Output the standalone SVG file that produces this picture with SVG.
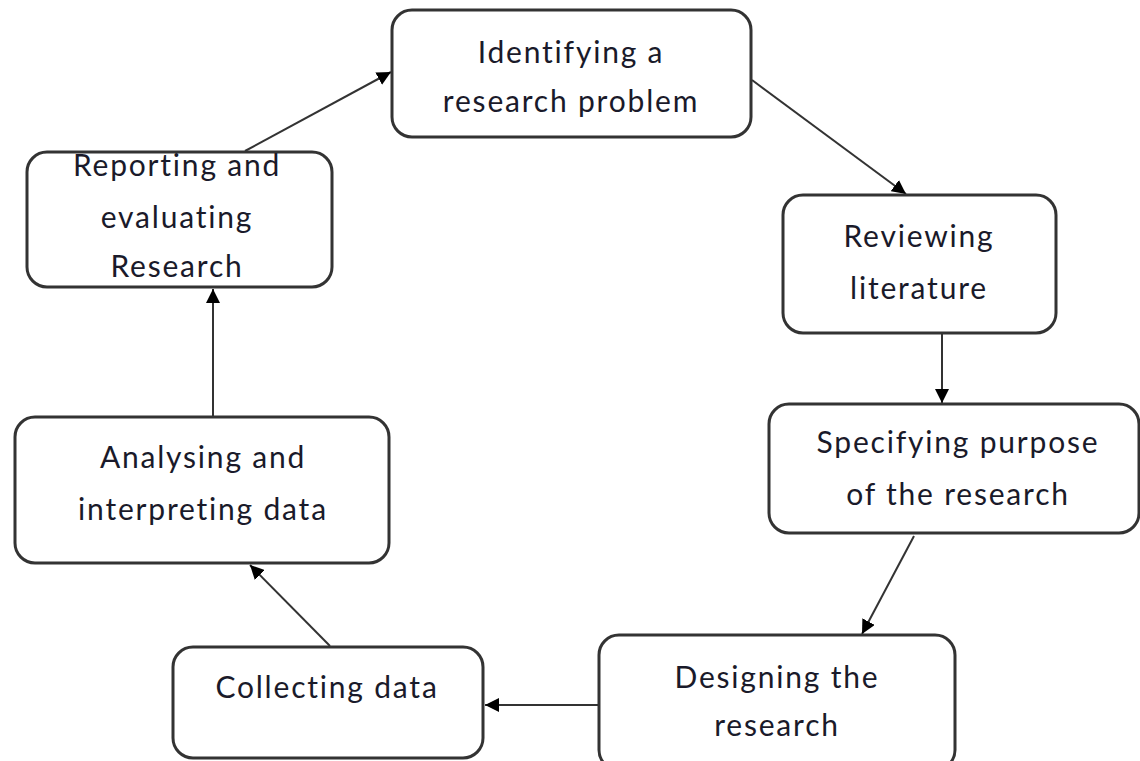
<svg xmlns="http://www.w3.org/2000/svg" width="1140" height="761" viewBox="0 0 1140 761">
<style>
.box{fill:#fff;stroke:#333;stroke-width:3}
.t{font-family:Lato,"Open Sans","Liberation Sans",sans-serif;font-size:30px;letter-spacing:1.8px;fill:#1a1a2a;text-anchor:middle}
.c{stroke:#333;stroke-width:2;fill:none;marker-end:url(#ah)}
</style>
<defs>
<marker id="ah" viewBox="0 0 10 10" refX="10" refY="5" markerWidth="14" markerHeight="14" markerUnits="userSpaceOnUse" orient="auto">
<path d="M0,0 L10,5 L0,10 z" fill="#000"/>
</marker>
</defs>
<rect width="1140" height="761" fill="#fff"/>
<g id="connectors">
<line class="c" x1="245" y1="151" x2="391" y2="72"/>
<line class="c" x1="752" y1="80" x2="906" y2="194"/>
<line class="c" x1="942" y1="334" x2="942" y2="403"/>
<line class="c" x1="914" y1="536" x2="862" y2="634"/>
<line class="c" x1="599" y1="705" x2="485" y2="705"/>
<line class="c" x1="330" y1="646" x2="250" y2="565"/>
<line class="c" x1="213" y1="416" x2="213" y2="289"/>
</g>
<g id="n1"><rect class="box" x="392" y="10" width="359" height="127" rx="20"/>
<text class="t" x="571" y="63">Identifying a</text><text class="t" x="571" y="112">research problem</text></g>
<g id="n2"><rect class="box" x="783" y="195" width="273" height="138" rx="20"/>
<text class="t" x="919" y="247">Reviewing</text><text class="t" x="919" y="299">literature</text></g>
<g id="n3"><rect class="box" x="769" y="404" width="370" height="129" rx="20"/>
<text class="t" x="958" y="453">Specifying purpose</text><text class="t" x="958" y="505">of the research</text></g>
<g id="n4"><rect class="box" x="599" y="635" width="356" height="135" rx="20"/>
<text class="t" x="777" y="688">Designing the</text><text class="t" x="777" y="736">research</text></g>
<g id="n5"><rect class="box" x="173" y="647" width="310" height="111" rx="20"/>
<text class="t" x="327" y="698">Collecting data</text></g>
<g id="n6"><rect class="box" x="15" y="417" width="374" height="146" rx="20"/>
<text class="t" x="203" y="468">Analysing and</text><text class="t" x="203" y="520">interpreting data</text></g>
<g id="n7"><rect class="box" x="27" y="152" width="305" height="135" rx="20"/>
<text class="t" x="177" y="176">Reporting and</text><text class="t" x="177" y="228">evaluating</text><text class="t" x="177" y="277">Research</text></g>
</svg>
